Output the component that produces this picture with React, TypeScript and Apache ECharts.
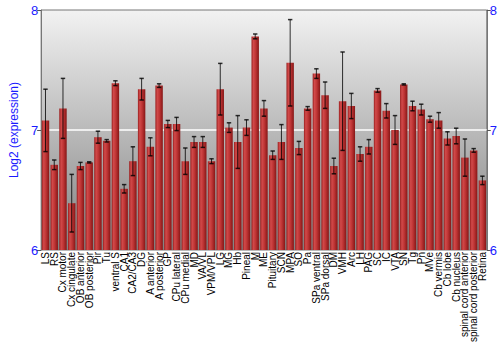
import React, { useEffect, useRef } from "react";
import * as echarts from "echarts";

const categories = ["LS", "RS", "Cx motor", "Cx cingulate", "OB anterior", "OB posterior", "Pir", "Tu", "ventral S", "CA1", "CA2/CA3", "DG", "A anterior", "A posterior", "GP", "CPu lateral", "CPu medial", "MD", "VA/VL", "VPM/VPL", "LG", "MG", "Hb", "Pineal", "M", "ME", "Pituitary", "SCN", "MPA", "SO", "Pa", "SPa ventral", "SPa dorsal", "DM", "VMH", "Arc", "LH", "PAG", "SC", "IC", "VTA", "SN", "Tg", "Pn", "MVe", "Cb vermis", "Cb lobe", "Cb nucleus", "spinal cord anterior", "spinal cord posterior", "Retina"];

const means = [7.08, 6.71, 7.18, 6.39, 6.70, 6.73, 6.94, 6.91, 7.39, 6.51, 6.74, 7.34, 6.86, 7.37, 7.05, 7.05, 6.74, 6.90, 6.90, 6.74, 7.34, 7.02, 6.90, 7.02, 7.78, 7.18, 6.79, 6.90, 7.56, 6.85, 7.18, 7.47, 7.29, 6.70, 7.24, 7.20, 6.80, 6.86, 7.33, 7.16, 7.00, 7.38, 7.20, 7.17, 7.09, 7.08, 6.93, 6.95, 6.77, 6.83, 6.58];

const errors = [0.26, 0.04, 0.25, 0.24, 0.03, 0.005, 0.05, 0.01, 0.02, 0.035, 0.12, 0.09, 0.075, 0.015, 0.03, 0.055, 0.11, 0.045, 0.045, 0.02, 0.215, 0.04, 0.22, 0.065, 0.02, 0.065, 0.035, 0.145, 0.36, 0.055, 0.015, 0.04, 0.11, 0.065, 0.41, 0.105, 0.06, 0.06, 0.015, 0.06, 0.12, 0.005, 0.04, 0.045, 0.025, 0.065, 0.055, 0.065, 0.155, 0.015, 0.035];

const yMin = 6;
const yMax = 8;
const yStep = 1;

const FONT = "'Liberation Sans', Arial, sans-serif";

export default function App() {
  const ref = useRef<HTMLDivElement>(null);

  useEffect(() => {
    if (!ref.current) return;
    const chart = echarts.init(ref.current, null, { renderer: "svg" });

    const errData = means.map((m, i) => [i, m - errors[i], m + errors[i]]);

    const yAxisCommon = {
      type: "value",
      min: yMin,
      max: yMax,
      interval: yStep,
      axisLine: { show: true, lineStyle: { color: "#777", width: 1 } },
      axisTick: { show: true, length: 4, lineStyle: { color: "#555" } },
      axisLabel: { color: "#1a1aff", fontSize: 13, fontFamily: FONT, margin: 3 },
    };

    chart.setOption({
      animation: false,
      grid: {
        left: 28,
        right: 13,
        top: 10,
        bottom: 100,
        show: true,
        borderColor: "#777",
        borderWidth: 1,
        backgroundColor: {
          type: "linear",
          x: 0, y: 0, x2: 0, y2: 1,
          colorStops: [
            { offset: 0, color: "#f2f2f2" },
            { offset: 1, color: "#828282" },
          ],
        },
      },
      xAxis: {
        type: "category",
        data: categories,
        axisLine: { show: false },
        axisTick: { show: false },
        axisLabel: {
          rotate: 90,
          interval: 0,
          fontSize: 10,
          color: "#000",
          fontFamily: FONT,
          margin: 2,
        },
      },
      yAxis: [
        {
          ...yAxisCommon,
          position: "left",
          name: "Log2 (expression)",
          nameLocation: "middle",
          nameGap: 14,
          nameTextStyle: { color: "#1a1aff", fontSize: 12, fontFamily: FONT },
          splitLine: {
            show: true,
            lineStyle: { color: ["rgba(0,0,0,0)", "#ffffff", "rgba(0,0,0,0)"], width: 1.5 },
          },
        },
        {
          ...yAxisCommon,
          position: "right",
          splitLine: { show: false },
        },
      ],
      series: [
        {
          type: "bar",
          data: means,
          barCategoryGap: "15%",
          itemStyle: {
            color: {
              type: "linear",
              x: 0, y: 0, x2: 1, y2: 0,
              colorStops: [
                { offset: 0, color: "#9a1e1e" },
                { offset: 0.25, color: "#d14a4a" },
                { offset: 0.55, color: "#bf3535" },
                { offset: 1, color: "#861616" },
              ],
            },
          },
          z: 2,
        },
        {
          type: "custom",
          data: errData,
          z: 3,
          renderItem: (params: any, api: any) => {
            const i = api.value(0);
            const lo = api.coord([i, api.value(1)]);
            const hi = api.coord([i, api.value(2)]);
            const half = 2.2;
            const style = { stroke: "rgba(0,0,0,0.8)", lineWidth: 1 };
            return {
              type: "group",
              children: [
                { type: "line", shape: { x1: hi[0], y1: hi[1], x2: lo[0], y2: lo[1] }, style },
                { type: "line", shape: { x1: hi[0] - half, y1: hi[1], x2: hi[0] + half, y2: hi[1] }, style: { ...style, lineWidth: 1.5 } },
                { type: "line", shape: { x1: lo[0] - half, y1: lo[1], x2: lo[0] + half, y2: lo[1] }, style: { ...style, lineWidth: 1.5 } },
              ],
            };
          },
        },
      ],
    });

    return () => chart.dispose();
  }, []);

  return (
    <div
      ref={ref}
      style={{ position: "fixed", left: 0, top: 0, width: 500, height: 350, background: "#fff" }}
    />
  );
}
